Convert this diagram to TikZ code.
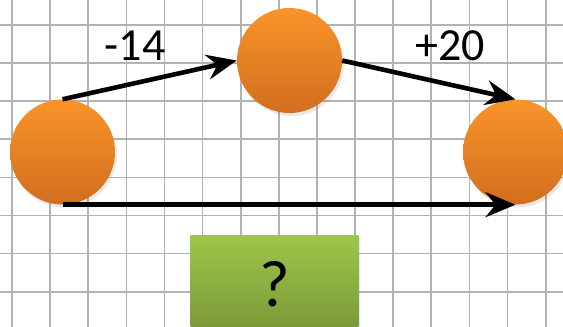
\documentclass[tikz,border=0pt]{standalone}
\usepackage{fontspec}
\setmainfont{Carlito}
\usetikzlibrary{arrows.meta,shadows}
\definecolor{gridgray}{RGB}{178,178,178}
\definecolor{orTop}{RGB}{249,148,42}
\definecolor{orBot}{RGB}{210,110,30}
\definecolor{grTop}{RGB}{158,198,74}
\definecolor{grBot}{RGB}{116,146,54}
\tikzset{
  ball/.style={circle, minimum size=105pt, inner sep=0pt, top color=orTop, bottom color=orBot, draw=none,
    drop shadow={opacity=0.18, shadow xshift=2pt, shadow yshift=-3pt}},
  conn/.style={line width=4.6pt, -{Stealth[length=30pt, width=25pt, inset=10pt]}},
  lbl/.style={font=\fontsize{46}{50}\selectfont, inner sep=0pt},
  qbox/.style={minimum width=167.6pt, minimum height=110pt, inner sep=0pt, top color=grTop, bottom color=grBot, draw=none,
    drop shadow={opacity=0.18, shadow xshift=2pt, shadow yshift=-3pt}}
}
\begin{document}
\begin{tikzpicture}[x=1pt,y=-1pt]
\useasboundingbox (0,0) rectangle (563,327);
\fill[white] (0,0) rectangle (563,327);
\begin{scope}
\clip (0,0) rectangle (563,327);
\foreach \k in {0,...,14} {
  \draw[gridgray, line width=1.7pt] ({12+38.12*\k},0) -- ({12+38.12*\k},327);
}
\foreach \k in {0,...,8} {
  \draw[gridgray, line width=1.7pt] (0,{25+38.1*\k}) -- (563,{25+38.1*\k});
}
\node[qbox] (q) at (274.5,290) {};
\node[font=\fontsize{66}{72}\selectfont, inner sep=0pt] (qt) at (275,284) {?};
\end{scope}
\node[ball] (a) at (62.5,152) {};
\node[ball] (b) at (289.5,60.5) {};
\node[ball] (c) at (515.5,152) {};
\draw[conn] (a.north) -- (b.west);
\draw[conn] (b.east) -- (c.north);
\draw[conn] (a.south) -- (c.south);
\node[lbl] (l1) at (135,46) {-14};
\node[lbl] (l2) at (450,46) {+20};
\end{tikzpicture}
\end{document}
